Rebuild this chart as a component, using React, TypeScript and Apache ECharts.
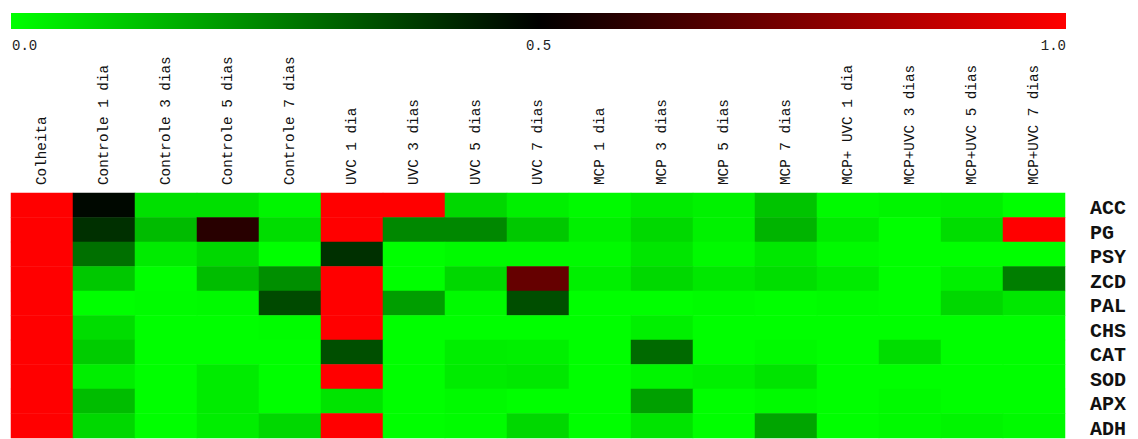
import React, { useEffect, useRef } from "react";
import * as echarts from "echarts";

const columns = [
  "Colheita",
  "Controle 1 dia",
  "Controle 3 dias",
  "Controle 5 dias",
  "Controle 7 dias",
  "UVC 1 dia",
  "UVC 3 dias",
  "UVC 5 dias",
  "UVC 7 dias",
  "MCP 1 dia",
  "MCP 3 dias",
  "MCP 5 dias",
  "MCP 7 dias",
  "MCP+ UVC 1 dia",
  "MCP+UVC 3 dias",
  "MCP+UVC 5 dias",
  "MCP+UVC 7 dias",
];

const genes = ["ACC", "PG", "PSY", "ZCD", "PAL", "CHS", "CAT", "SOD", "APX", "ADH"];

const acc = [1.0, 0.485, 0.06, 0.06, 0.02, 1.0, 1.0, 0.076, 0.03, 0.01, 0.04, 0.025, 0.115, 0.01, 0.02, 0.03, 0.0];
const pg = [1.0, 0.406, 0.133, 0.578, 0.067, 1.0, 0.233, 0.233, 0.108, 0.03, 0.075, 0.025, 0.147, 0.04, 0.0, 0.067, 1.0];
const psy = [1.0, 0.28, 0.04, 0.076, 0.0, 0.406, 0.0, 0.01, 0.01, 0.01, 0.05, 0.01, 0.045, 0.01, 0.0, 0.0, 0.0];
const zcd = [1.0, 0.108, 0.0, 0.13, 0.22, 1.0, 0.0, 0.076, 0.698, 0.03, 0.075, 0.045, 0.065, 0.04, 0.0, 0.03, 0.253];
const pal = [1.0, 0.0, 0.005, 0.01, 0.355, 1.0, 0.19, 0.01, 0.347, 0.0, 0.0, 0.005, 0.0, 0.005, 0.0, 0.076, 0.045];
const chs = [1.0, 0.067, 0.0, 0.0, 0.005, 1.0, 0.0, 0.0, 0.0, 0.0, 0.03, 0.0, 0.0, 0.0, 0.0, 0.0, 0.0];
const cat = [1.0, 0.1, 0.0, 0.0, 0.0, 0.345, 0.0, 0.033, 0.03, 0.0, 0.292, 0.0, 0.01, 0.0, 0.067, 0.0, 0.0];
const sod = [1.0, 0.033, 0.0, 0.037, 0.0, 1.0, 0.0, 0.037, 0.045, 0.0, 0.02, 0.03, 0.053, 0.0, 0.0, 0.0, 0.0];
const apx = [1.0, 0.13, 0.0, 0.037, 0.0, 0.053, 0.0, 0.01, 0.0, 0.0, 0.186, 0.0, 0.01, 0.0, 0.01, 0.0, 0.0];
const adh = [1.0, 0.076, 0.0, 0.033, 0.076, 1.0, 0.0, 0.005, 0.076, 0.0, 0.053, 0.0, 0.176, 0.0, 0.01, 0.02, 0.01];

const rows = [acc, pg, psy, zcd, pal, chs, cat, sod, apx, adh];

const scaleMin = 0;
const scaleMax = 1;
const scaleTicks = ["0.0", "0.5", "1.0"];
const scaleColors = ["#00ff00", "#000000", "#ff0000"];

const MONO = "'Liberation Mono', 'Courier New', 'DejaVu Sans Mono', monospace";

export default function App() {
  const ref = useRef<HTMLDivElement>(null);

  useEffect(() => {
    if (!ref.current) return;
    const chart = echarts.init(ref.current, null, { renderer: "svg" });

    const data: [number, number, number][] = [];
    rows.forEach((vals, r) => {
      vals.forEach((v, c) => data.push([c, r, v]));
    });

    const barLeft = 11;
    const barWidth = 1055;
    const barTop = 13;
    const barHeight = 16;
    const tickY = 46;

    const tickPositions = [barLeft + 1, barLeft + barWidth / 2, barLeft + barWidth];
    const tickAligns = ["left", "center", "right"];

    chart.setOption({
      animation: false,
      backgroundColor: "#ffffff",
      grid: { left: 11, top: 193, width: 1054, height: 248, containLabel: false },
      xAxis: {
        type: "category",
        data: columns,
        position: "top",
        axisLine: { show: false },
        axisTick: { show: false },
        splitLine: { show: false },
        axisLabel: {
          rotate: -90,
          margin: 8,
          interval: 0,
          fontFamily: MONO,
          fontSize: 14.3,
          color: "#111",
        },
      },
      yAxis: {
        type: "category",
        data: genes,
        inverse: true,
        position: "right",
        axisLine: { show: false },
        axisTick: { show: false },
        splitLine: { show: false },
        axisLabel: {
          interval: 0,
          margin: 25,
          align: "left",
          verticalAlign: "top",
          lineHeight: 7,
          fontFamily: MONO,
          fontWeight: "bold",
          fontSize: 20,
          color: "#111",
        },
      },
      visualMap: {
        show: false,
        type: "continuous",
        min: scaleMin,
        max: scaleMax,
        dimension: 2,
        inRange: { color: scaleColors },
      },
      graphic: [
        {
          type: "rect",
          shape: { x: barLeft, y: barTop, width: barWidth, height: barHeight },
          style: {
            fill: new echarts.graphic.LinearGradient(0, 0, 1, 0, [
              { offset: 0, color: scaleColors[0] },
              { offset: 0.5, color: scaleColors[1] },
              { offset: 1, color: scaleColors[2] },
            ]),
          },
        },
        ...scaleTicks.map((t, i) => ({
          type: "text",
          x: tickPositions[i],
          y: tickY,
          style: {
            text: t,
            font: `14px ${MONO}`,
            fill: "#222",
            align: tickAligns[i],
            verticalAlign: "middle",
          },
        })),
      ],
      series: [
        {
          type: "heatmap",
          data,
          itemStyle: { borderWidth: 0 },
          emphasis: { disabled: true },
        },
      ],
    });

    return () => chart.dispose();
  }, []);

  return (
    <div
      ref={ref}
      style={{ position: "fixed", left: 0, top: 0, width: 1138, height: 439, background: "#fff" }}
    />
  );
}
